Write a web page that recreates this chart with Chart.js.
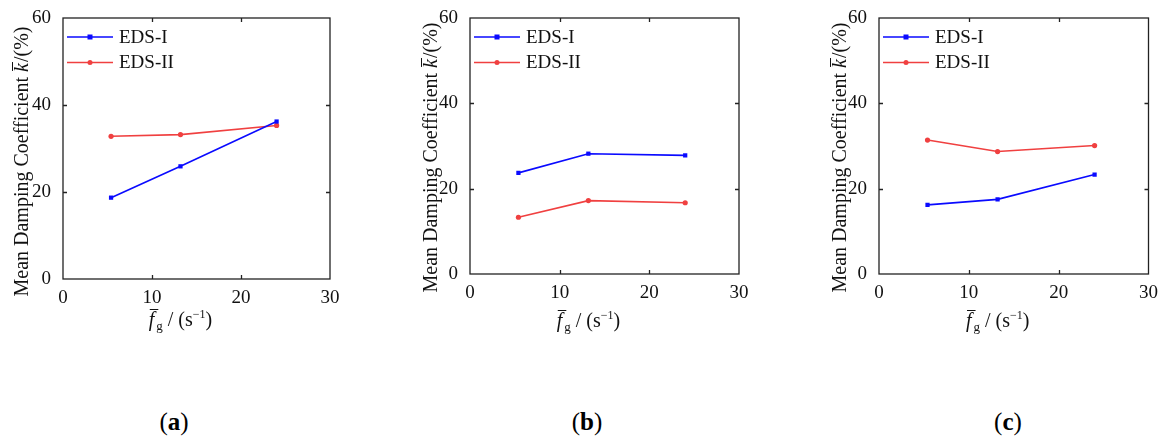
<!DOCTYPE html>
<html>
<head>
<meta charset="utf-8">
<script src="https://cdn.jsdelivr.net/npm/chart.js@4.4.0/dist/chart.umd.min.js"></script>
<style>
  body { margin: 0; background: #fff; width: 1158px; height: 439px; position: relative; overflow: hidden; }
  .box { position: absolute; top: 0; height: 340px; }
  .cap { position: absolute; top: 408px; font: 25px "Liberation Serif", serif; color: #000; transform: translateX(-50%); }
  .cap b { font-weight: bold; }
</style>
</head>
<body>
<div class="box" style="left:0;width:345px"><canvas id="chartA"></canvas></div>
<div class="box" style="left:400px;width:350px"><canvas id="chartB"></canvas></div>
<div class="box" style="left:810px;width:348px"><canvas id="chartC"></canvas></div>
<div class="cap" style="left:174px">(<b>a</b>)</div>
<div class="cap" style="left:587px">(<b>b</b>)</div>
<div class="cap" style="left:1008px">(<b>c</b>)</div>
<script>
(function() {
  "use strict";

  // mean frequency f_g (1/s), shared by all three panels
  var freq = [5.4, 13.2, 24.0];
  var seriesNames = ['EDS-I', 'EDS-II'];

  // panel (a)
  var edsOneA = [18.7, 25.9, 36.2];
  var edsTwoA = [32.8, 33.2, 35.3];
  // panel (b)
  var edsOneB = [23.7, 28.2, 27.8];
  var edsTwoB = [13.3, 17.2, 16.7];
  // panel (c)
  var edsOneC = [16.2, 17.5, 23.3];
  var edsTwoC = [31.4, 28.7, 30.1];

  var xTicks = [0, 10, 20, 30];
  var yTicks = [0, 20, 40, 60];

  var BLUE = '#0a0aff';
  var RED = '#f04040';
  var SERIF = '"Liberation Serif", "Times New Roman", serif';

  function points(vals) {
    return freq.map(function(f, i) { return { x: f, y: vals[i] }; });
  }

  // box, inward ticks, axis titles and legend inside the plot
  var decor = {
    id: 'decor',
    afterDraw: function(chart) {
      var ctx = chart.ctx, a = chart.chartArea;
      var sx = chart.scales.x, sy = chart.scales.y;
      var o = chart.options.plugins.decor;
      ctx.save();
      ctx.strokeStyle = '#222';
      ctx.lineWidth = 1.3;
      ctx.strokeRect(a.left, a.top, a.right - a.left, a.bottom - a.top);
      ctx.beginPath();
      xTicks.slice(1, -1).forEach(function(v) {
        var px = Math.round(sx.getPixelForValue(v)) + 0.5;
        ctx.moveTo(px, a.bottom); ctx.lineTo(px, a.bottom - 4);
        ctx.moveTo(px, a.top); ctx.lineTo(px, a.top + 4);
      });
      yTicks.slice(1, -1).forEach(function(v) {
        var py = Math.round(sy.getPixelForValue(v)) + 0.5;
        ctx.moveTo(a.left, py); ctx.lineTo(a.left + 4, py);
        ctx.moveTo(a.right, py); ctx.lineTo(a.right - 4, py);
      });
      ctx.stroke();

      // legend
      chart.data.datasets.forEach(function(ds, i) {
        var y = a.top + 19 + i * 25.5;
        var x0 = a.left + 4, x1 = a.left + 50;
        ctx.strokeStyle = ds.borderColor;
        ctx.lineWidth = 1.5;
        ctx.beginPath(); ctx.moveTo(x0, y); ctx.lineTo(x1, y); ctx.stroke();
        ctx.fillStyle = ds.borderColor;
        var mx = (x0 + x1) / 2;
        if (ds.pointStyle === 'rect') {
          ctx.fillRect(mx - 2.5, y - 2.5, 5, 5);
        } else {
          ctx.beginPath(); ctx.arc(mx, y, 2.5, 0, Math.PI * 2); ctx.fill();
        }
        ctx.fillStyle = '#111';
        ctx.font = '19px ' + SERIF;
        ctx.textBaseline = 'middle';
        ctx.textAlign = 'left';
        ctx.fillText(ds.label, a.left + 56, y + 1);
      });

      // y title: Mean Damping Coefficient k̄/(%)
      ctx.fillStyle = '#111';
      ctx.textBaseline = 'middle';
      ctx.translate(o.yTitleX, o.yTitleY);
      ctx.rotate(-Math.PI / 2);
      var f1 = '20px ' + SERIF, f2 = 'italic 20px ' + SERIF;
      var p1 = 'Mean Damping Coefficient ', p2 = 'k', p3 = '/(%)';
      ctx.font = f1; var w1 = ctx.measureText(p1).width, w3 = ctx.measureText(p3).width;
      ctx.font = f2; var w2 = ctx.measureText(p2).width;
      var sx0 = -(w1 + w2 + w3) / 2;
      ctx.textAlign = 'left';
      ctx.font = f1; ctx.fillText(p1, sx0, 0);
      ctx.font = f2; ctx.fillText(p2, sx0 + w1, 0);
      ctx.font = f1; ctx.fillText(p3, sx0 + w1 + w2 + 1, 0);
      ctx.strokeStyle = '#111'; ctx.lineWidth = 1;
      ctx.beginPath(); ctx.moveTo(sx0 + w1 + 1, -10.5); ctx.lineTo(sx0 + w1 + w2 + 1, -10.5); ctx.stroke();
      ctx.setTransform(1, 0, 0, 1, 0, 0);

      // x title: f̄g / (s^-1)
      var cx = (a.left + a.right) / 2 - 16, ty = a.bottom + o.xTitleDy;
      var fa = 'italic 20px ' + SERIF, fs = '13px ' + SERIF, fb = '20px ' + SERIF, fsup = '12px ' + SERIF;
      var q1 = 'f', q2 = 'g', q3 = ' / (s', q4 = '\u22121', q5 = ')';
      ctx.font = fa; var v1 = ctx.measureText(q1).width;
      ctx.font = fs; var v2 = ctx.measureText(q2).width;
      ctx.font = fb; var v3 = ctx.measureText(q3).width, v5 = ctx.measureText(q5).width;
      ctx.font = fsup; var v4 = ctx.measureText(q4).width;
      var tx = cx - (v1 + v2 + v3 + v4 + v5 + 2) / 2;
      ctx.textBaseline = 'alphabetic';
      ctx.font = fa; ctx.fillText(q1, tx, ty);
      ctx.beginPath(); ctx.moveTo(tx + 1, ty - 16.5); ctx.lineTo(tx + v1 + 4, ty - 16.5); ctx.stroke();
      ctx.font = fs; ctx.fillText(q2, tx + v1 + 2, ty + 4);
      ctx.font = fb; ctx.fillText(q3, tx + v1 + v2 + 2, ty);
      ctx.font = fsup; ctx.fillText(q4, tx + v1 + v2 + v3 + 2, ty - 8);
      ctx.font = fb; ctx.fillText(q5, tx + v1 + v2 + v3 + v4 + 2, ty);
      ctx.restore();
    }
  };

  function makeChart(id, one, two, g) {
    return new Chart(document.getElementById(id), {
      type: 'line',
      data: {
        datasets: [{
          label: seriesNames[0],
          data: points(one),
          borderColor: BLUE,
          backgroundColor: BLUE,
          borderWidth: 1.6,
          pointStyle: 'rect',
          pointRadius: 3,
          pointBorderWidth: 0,
          tension: 0
        }, {
          label: seriesNames[1],
          data: points(two),
          borderColor: RED,
          backgroundColor: RED,
          borderWidth: 1.6,
          pointStyle: 'circle',
          pointRadius: 2.6,
          pointBorderWidth: 0,
          tension: 0
        }]
      },
      options: {
        responsive: true,
        maintainAspectRatio: false,
        animation: false,
        layout: { padding: { left: 0, top: g.top, right: g.right, bottom: 0 } },
        plugins: {
          legend: { display: false },
          tooltip: { enabled: false },
          decor: { yTitleX: g.yTitleX, yTitleY: g.yTitleY, xTitleDy: g.xTitleDy }
        },
        scales: {
          x: {
            type: 'linear',
            min: 0, max: 30,
            afterBuildTicks: function(s) { s.ticks = xTicks.map(function(v) { return { value: v }; }); },
            afterFit: function(s) { s.height = g.bottom; },
            grid: { display: false },
            border: { display: false },
            ticks: { color: '#111', padding: 0, font: { family: SERIF, size: 19 } }
          },
          y: {
            min: 0, max: 60,
            afterBuildTicks: function(s) { s.ticks = yTicks.map(function(v) { return { value: v }; }); },
            afterFit: function(s) { s.width = g.left; },
            grid: { display: false },
            border: { display: false },
            ticks: { color: '#111', padding: 4, font: { family: SERIF, size: 19 } }
          }
        }
      },
      plugins: [decor]
    });
  }

  makeChart('chartA', edsOneA, edsTwoA, { left: 63, top: 18, right: 15, bottom: 61, xTitleDy: 47, yTitleX: 23, yTitleY: 162 });
  makeChart('chartB', edsOneB, edsTwoB, { left: 70, top: 18, right: 11, bottom: 66, xTitleDy: 53, yTitleX: 32, yTitleY: 158 });
  makeChart('chartC', edsOneC, edsTwoC, { left: 69, top: 18, right: 9, bottom: 66, xTitleDy: 53, yTitleX: 31, yTitleY: 158 });
})();
</script>
</body>
</html>
